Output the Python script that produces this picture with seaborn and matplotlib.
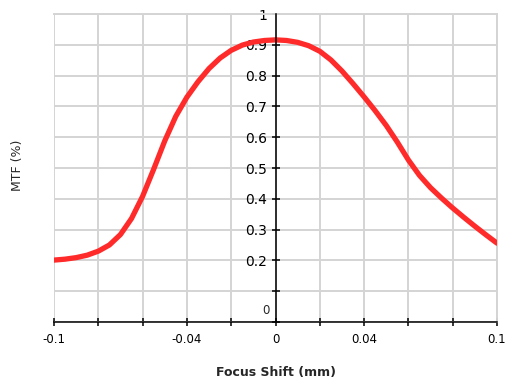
import matplotlib
matplotlib.use("Agg")
import matplotlib.pyplot as plt
import seaborn as sns
import pandas as pd

# focus shift (mm) and MTF
focus_shift = [-0.1, -0.095, -0.09, -0.085, -0.08, -0.075, -0.07, -0.065, -0.06,
               -0.055, -0.05, -0.045, -0.04, -0.035, -0.03, -0.025, -0.02,
               -0.015, -0.01, -0.005, 0.0, 0.005, 0.01, 0.015, 0.02, 0.025,
               0.03, 0.035, 0.04, 0.045, 0.05, 0.055, 0.06, 0.065, 0.07,
               0.075, 0.08, 0.085, 0.09, 0.095, 0.1]
mtf = [0.201, 0.204, 0.209, 0.217, 0.230, 0.250, 0.284, 0.336, 0.408,
       0.496, 0.588, 0.668, 0.730, 0.780, 0.823, 0.857, 0.882,
       0.899, 0.909, 0.914, 0.916, 0.914, 0.908, 0.897, 0.879, 0.851,
       0.815, 0.774, 0.731, 0.686, 0.638, 0.584, 0.526, 0.476, 0.436,
       0.402, 0.370, 0.340, 0.311, 0.283, 0.256]

x_ticks = [-0.1, -0.08, -0.06, -0.04, -0.02, 0.0, 0.02, 0.04, 0.06, 0.08, 0.1]
x_labels = ["-0.1", "", "", "-0.04", "", "0", "", "0.04", "", "", "0.1"]
y_ticks = [0, 0.1, 0.2, 0.3, 0.4, 0.5, 0.6, 0.7, 0.8, 0.9, 1.0]
y_labels = ["", "", "0.2", "0.3", "0.4", "0.5", "0.6", "0.7", "0.8", "0.9", "1"]

df = pd.DataFrame({"shift": focus_shift, "mtf": mtf})

sns.set_style("white")
plt.rcParams["font.family"] = ["DejaVu Sans"]

fig = plt.figure(figsize=(5.12, 3.84), dpi=100)
ax = fig.add_axes([54 / 512, 1 - 322 / 384, 443 / 512, 308 / 384])

sns.lineplot(data=df, x="shift", y="mtf", ax=ax, color="#ff2a2a",
             linewidth=3.8, solid_capstyle="round", zorder=3)

ax.set_xlim(-0.1, 0.1)
ax.set_ylim(0, 1)
ax.set_xticks(x_ticks)
ax.set_xticklabels(x_labels, fontsize=8.5)
ax.set_yticks(y_ticks)
ax.set_yticklabels(y_labels, fontsize=8.5)
ax.grid(True, color="#d4d4d4", linewidth=1.4, zorder=0)
ax.set_axisbelow(True)

for side in ["top", "right"]:
    ax.spines[side].set_color("#d4d4d4")
    ax.spines[side].set_linewidth(1.4)
ax.spines["left"].set_position(("data", 0))
ax.spines["left"].set_color("black")
ax.spines["left"].set_linewidth(1.1)
ax.spines["left"].set_zorder(4)
ax.spines["bottom"].set_color("black")
ax.spines["bottom"].set_linewidth(1.1)

ax.tick_params(axis="y", left=True, direction="inout", length=6, width=1.1,
               pad=3, colors="black")
ax.tick_params(axis="x", bottom=True, direction="inout", length=6, width=1.1,
               pad=5, colors="black")

# the "0" label sits a little above the x axis
ax.annotate("0", xy=(0, 0), xytext=(-6, 11), textcoords="offset pixels",
            ha="right", va="center", fontsize=8.5)

ax.set_xlabel("Focus Shift (mm)", fontsize=9, fontweight="bold", labelpad=14)
ax.set_ylabel("")
fig.text(17 / 512, 1 - 165 / 384, "MTF (%)", rotation=90, ha="center",
         va="center", fontsize=9)

fig.savefig("out.png", dpi=100)
